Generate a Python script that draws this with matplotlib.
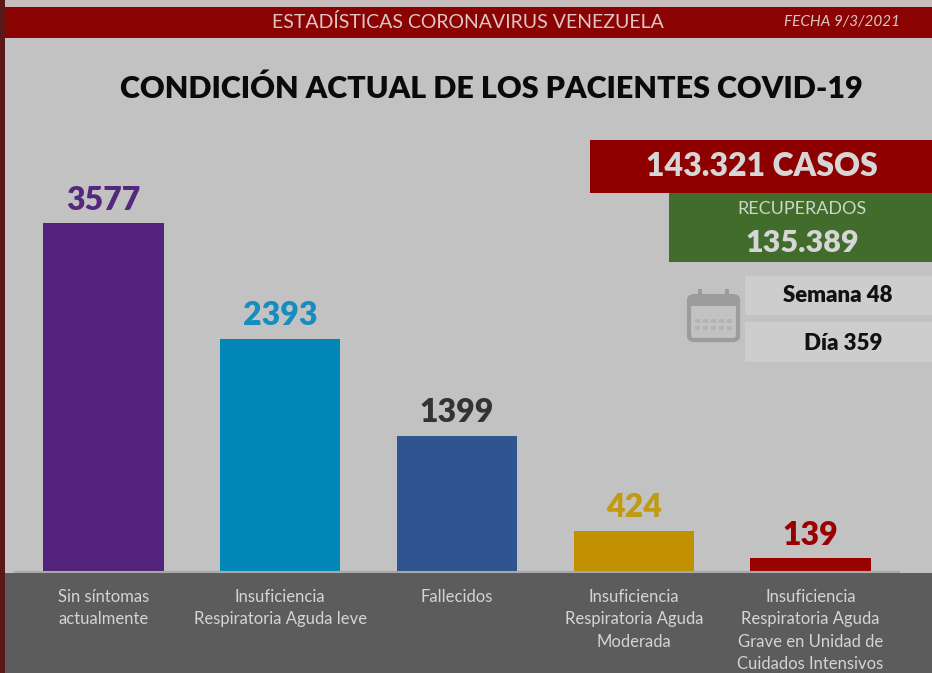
import matplotlib.pyplot as plt
from matplotlib.patches import Rectangle, FancyBboxPatch

plt.rcParams['font.family'] = ['Lato', 'DejaVu Sans']

categories = ["Sin síntomas\nactualmente",
              "Insuficiencia\nRespiratoria Aguda leve",
              "Fallecidos",
              "Insuficiencia\nRespiratoria Aguda\nModerada",
              "Insuficiencia\nRespiratoria Aguda\nGrave en Unidad de\nCuidados Intensivos"]
values = [3577, 2393, 1399, 424, 139]
bar_colors = ["#53227a", "#0087b8", "#2f5490", "#c09000", "#990000"]
label_colors = ["#55287e", "#158dbf", "#333333", "#c09a10", "#9a0000"]

W, H = 932, 673

def fx(x):
    return x / W

def fy(y):
    return 1 - y / H

fig = plt.figure(figsize=(W / 100, H / 100), dpi=100)
fig.patch.set_facecolor("#c2c2c2")

def rect(x0, y0, x1, y1, color, z=-1):
    fig.add_artist(Rectangle((fx(x0), fy(y1)), fx(x1) - fx(x0), fy(y0) - fy(y1),
                             transform=fig.transFigure, facecolor=color,
                             edgecolor="none", zorder=z))

# frame pieces
rect(0, 0, W, 7, "#c8bcbc")
rect(0, 7, W, 38, "#8a0202")
rect(0, 573, W, H, "#5c5c5c")
rect(0, 0, 5, H, "#5a1818")

fig.text(fx(468), fy(22), "ESTADÍSTICAS CORONAVIRUS VENEZUELA", ha="center", va="center",
         color="#dcc6c6", fontsize=14)
fig.text(fx(842), fy(22), "FECHA 9/3/2021", ha="center", va="center",
         color="#dcc6c6", fontsize=11, style="italic")
fig.text(fx(491), fy(89), "CONDICIÓN ACTUAL DE LOS PACIENTES COVID-19", ha="center",
         va="center", color="#0a0a0a", fontsize=22, fontweight="heavy")

# bar chart
scale = 349 / 3577
ax = fig.add_axes([fx(15), fy(572), fx(899) - fx(15), 4000 * scale / H])
ax.set_facecolor("none")
ax.bar(range(len(values)), values, width=0.68, color=bar_colors)
ax.set_xlim(-0.5, 4.5)
ax.set_ylim(0, 4000)
for s in ["top", "right", "left"]:
    ax.spines[s].set_visible(False)
ax.spines["bottom"].set_color("#a8a8a8")
ax.spines["bottom"].set_linewidth(1.5)
ax.set_yticks([])
ax.set_xticks([])
for i, v in enumerate(values):
    ax.annotate(str(v), (i, v), xytext=(0, 6), textcoords="offset points",
                ha="center", va="bottom", fontsize=23, fontweight="heavy",
                color=label_colors[i])
for i, c in enumerate(categories):
    ax.annotate(c, (i, 0), xytext=(0, -12), textcoords="offset points",
                ha="center", va="top", fontsize=12, color="#d4d4d4",
                linespacing=1.5, annotation_clip=False)

# right side boxes
rect(590, 140, W, 193, "#8e0000")
fig.text(fx(762), fy(167), "143.321 CASOS", ha="center", va="center",
         color="#d6d6d6", fontsize=23, fontweight="heavy")
rect(669, 193, W, 262, "#426c2b")
fig.text(fx(802), fy(209), "RECUPERADOS", ha="center", va="center",
         color="#cfd6c8", fontsize=13)
fig.text(fx(802), fy(243), "135.389", ha="center", va="center",
         color="#d6d6d6", fontsize=22, fontweight="heavy")
rect(745, 276, W, 315, "#cdcdcd")
rect(745, 322, W, 362, "#cdcdcd")
fig.text(fx(838), fy(295), "Semana 48", ha="center", va="center",
         color="#111111", fontsize=16, fontweight="heavy")
fig.text(fx(843), fy(343), "Día 359", ha="center", va="center",
         color="#111111", fontsize=16, fontweight="heavy")

# calendar icon
ic = "#9c9c9c"
fig.add_artist(FancyBboxPatch((fx(689), fy(340)), fx(738) - fx(689), fy(296) - fy(340),
                              boxstyle="round,pad=0,rounding_size=0.006",
                              transform=fig.transFigure, facecolor="none",
                              edgecolor=ic, linewidth=3))
rect(689, 296, 738, 306, ic, z=1)
rect(698, 289, 702, 300, ic, z=1)
rect(725, 289, 729, 300, ic, z=1)
for r in (321, 328):
    for cx in (697, 705, 713, 721, 729):
        rect(cx - 2.5, r - 2, cx + 2.5, r + 2, "#b4b4b4", z=1)

fig.savefig("out.png", dpi=100, facecolor=fig.get_facecolor())
